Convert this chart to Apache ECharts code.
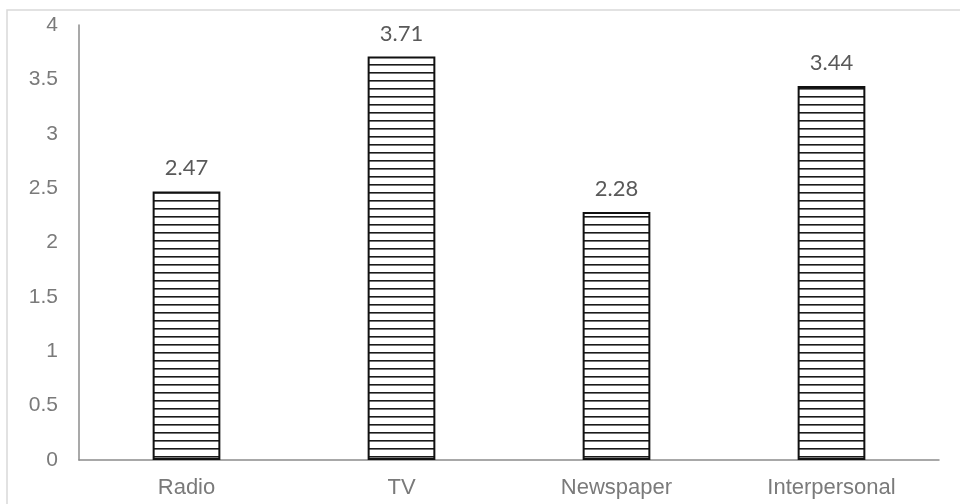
<!DOCTYPE html>
<html>
<head>
<meta charset="utf-8">
<script src="https://cdn.jsdelivr.net/npm/echarts@6/dist/echarts.min.js"></script>
<style>
  html, body { margin: 0; padding: 0; background: #fff; }
  #chart { width: 960px; height: 504px; }
</style>
</head>
<body>
<div id="chart"></div>
<script>
// Mean scores by media channel
const categories = ['Radio', 'TV', 'Newspaper', 'Interpersonal'];
const values = [2.47, 3.71, 2.28, 3.44];
const yTicks = [0, 0.5, 1, 1.5, 2, 2.5, 3, 3.5, 4];

// Horizontal hatch fill for the bars
function hatchPattern() {
  const c = document.createElement('canvas');
  c.width = 8;
  c.height = 8;
  const ctx = c.getContext('2d');
  ctx.fillStyle = '#ffffff';
  ctx.fillRect(0, 0, 8, 8);
  ctx.fillStyle = '#1a1a1a';
  ctx.fillRect(0, 0, 8, 1.6);
  return c;
}

const chart = echarts.init(document.getElementById('chart'), null, { renderer: 'canvas' });
chart.setOption({
  animation: false,
  backgroundColor: '#ffffff',
  graphic: [{
    type: 'rect',
    shape: { x: 7, y: 10, width: 980, height: 520 },
    style: { fill: 'none', stroke: '#d9d9d9', lineWidth: 1.5 },
    silent: true
  }],
  grid: { left: 79, right: 21, top: 25, bottom: 44, containLabel: false },
  xAxis: {
    type: 'category',
    data: categories,
    axisLine: { lineStyle: { color: '#8c8c8c', width: 1.5 } },
    axisTick: { show: false },
    axisLabel: {
      color: '#7a7a7a',
      fontFamily: 'Liberation Sans',
      fontSize: 22,
      margin: 17
    }
  },
  yAxis: {
    type: 'value',
    min: yTicks[0],
    max: yTicks[yTicks.length - 1],
    interval: 0.5,
    axisLine: { show: true, lineStyle: { color: '#8c8c8c', width: 1.5 } },
    axisTick: { show: false },
    splitLine: { show: false },
    axisLabel: {
      color: '#7a7a7a',
      fontFamily: 'Liberation Sans',
      fontSize: 21,
      margin: 21
    }
  },
  series: [{
    type: 'bar',
    data: values,
    barWidth: '31.5%',
    itemStyle: {
      color: { image: hatchPattern(), repeat: 'repeat' },
      borderColor: '#111111',
      borderWidth: 2
    },
    label: {
      show: true,
      position: 'top',
      distance: 12,
      color: '#595959',
      fontFamily: 'Lato',
      fontSize: 22,
      formatter: p => p.value.toFixed(2)
    }
  }]
});
</script>
</body>
</html>
